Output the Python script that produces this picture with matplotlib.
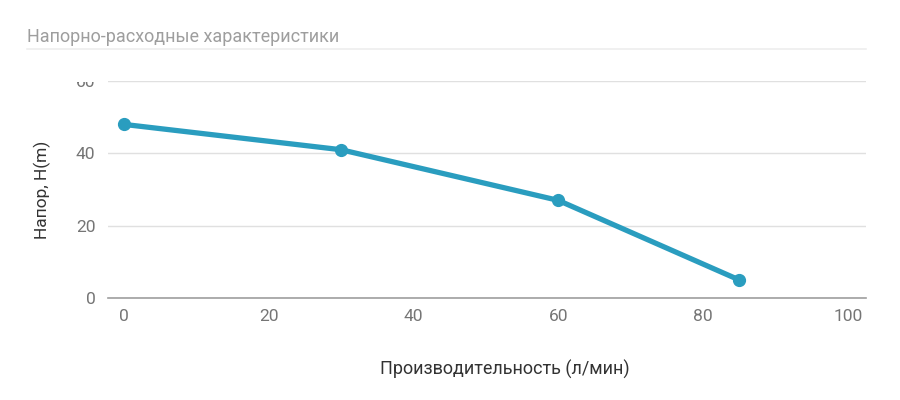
import matplotlib
matplotlib.use("Agg")
import matplotlib.pyplot as plt
from matplotlib.patches import Rectangle

plt.rcParams['font.family'] = ['Roboto', 'DejaVu Sans']

# flow (l/min) vs head (m)
flow = [0, 30, 60, 85]
head = [48, 41, 27, 5]
x_ticks = [0, 20, 40, 60, 80, 100]
y_ticks = [0, 20, 40, 60]

title = "Напорно-расходные характеристики"
x_title = "Производительность (л/мин)"
y_title = "Напор, H(m)"

line_color = "#2a9dbf"

fig = plt.figure(figsize=(9, 4), dpi=100)
ax = fig.add_axes([0.12, 0.255, 0.842, 0.5425])

ax.plot(flow, head, color=line_color, lw=3.8, marker="o", ms=8.5,
        solid_capstyle="round", zorder=3)

ax.set_xlim(-2.2, 102.5)
ax.set_ylim(0, 60)
ax.set_xticks(x_ticks)
ax.set_yticks(y_ticks)
ax.grid(axis="y", color="#e0e0e0", lw=1)
ax.set_axisbelow(True)
for s in ["top", "right", "left"]:
    ax.spines[s].set_visible(False)
ax.spines["bottom"].set_color("#9e9e9e")
ax.spines["bottom"].set_linewidth(1.2)
ax.tick_params(axis="both", length=0, labelsize=12.5, labelcolor="#757575")
ax.tick_params(axis="x", pad=8)
ax.tick_params(axis="y", pad=9)

ax.set_xlabel(x_title, fontsize=13, color="#333333")
ax.xaxis.set_label_coords(0.524, -0.285)
ax.set_ylabel(y_title, fontsize=12.5, color="#333333", labelpad=18)

# top y label is cut off in the original
fig.canvas.draw()
for lab in ax.get_yticklabels():
    if lab.get_text() == "60":
        lab.set_clip_on(True)
        lab.set_clip_path(Rectangle((0, 0), 1, 1 - 82 / 400,
                                    transform=fig.transFigure))

fig.text(27 / 900, 1 - 37 / 400, title, fontsize=13, color="#9e9e9e",
         va="center", ha="left")
fig.add_artist(plt.Line2D([27 / 900, 866 / 900], [1 - 49 / 400, 1 - 49 / 400],
                          color="#eeeeee", lw=1.2, transform=fig.transFigure))

fig.savefig("out.png", dpi=100)
